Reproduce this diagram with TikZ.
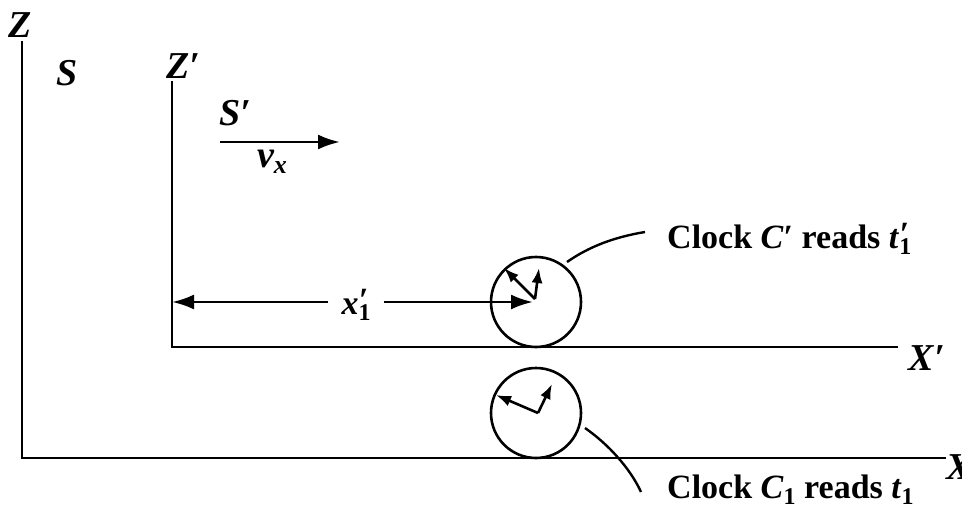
\documentclass[tikz,border=0pt]{standalone}
\usepackage{fontspec}
\setmainfont{Liberation Serif}
\usetikzlibrary{arrows.meta}
\newcommand\psubA[2]{\textit{#1}\rlap{\kern0.5pt\raisebox{0.15ex}{′}}\raisebox{-0.4ex}{\fontsize{24}{24}\selectfont #2}}
\newcommand\subA[1]{\raisebox{-0.4ex}{\fontsize{24}{24}\selectfont #1}}
\begin{document}
\begin{tikzpicture}[x=1pt,y=-1pt,
  ax/.style={line width=2.8pt,line cap=rect},
  big/.style={font=\fontsize{38}{38}\selectfont\bfseries\itshape,inner sep=0pt},
  lab/.style={font=\fontsize{34}{34}\selectfont\bfseries,inner sep=0pt,anchor=west},
  bigarrow/.style={line width=2.8pt,-{Latex[length=22pt,width=15pt]}},
  hand/.style={line width=2.6pt,-{Latex[length=15pt,width=11pt]}},
  lead/.style={line width=2.4pt}]
\useasboundingbox (0,0) rectangle (962,511);
% S frame
\coordinate (Ztop) at (22,42);
\coordinate (O) at (22,458);
\coordinate (Xend) at (945,458);
\draw[ax] (Ztop) -- (O) -- (Xend);
\node[big] (Z) at (20,25) {Z};
\node[big] (S) at (67,73) {S};
\node[big,anchor=west] (X) at (946,467) {X};
% S' frame
\coordinate (Zptop) at (172,82);
\coordinate (Op) at (172,347);
\coordinate (Xpend) at (897,347);
\draw[ax] (Zptop) -- (Op) -- (Xpend);
\node[big] (Zp) at (183,66) {Z′};
\node[big] (Xp) at (927,358) {X′};
\node[big] (Sp) at (235,113) {S′};
\coordinate (va) at (220,142);
\coordinate (vb) at (340,142);
\draw[bigarrow] (va) -- (vb);
\node[big] (vx) at (272,162) {v\raisebox{-0.35ex}{\fontsize{26}{26}\selectfont x}};
% clocks
\node[circle,draw,line width=2.6pt,minimum size=90pt,inner sep=0pt] (Cp) at (536,302) {};
\node[circle,draw,line width=2.6pt,minimum size=90pt,inner sep=0pt] (C1) at (536,413) {};
\coordinate (hp) at (535,299);
\coordinate (hpa) at (504,268);
\coordinate (hpb) at (539,268);
\draw[hand] (hp) -- (hpa);
\draw[hand] (hp) -- (hpb);
\coordinate (h1) at (538,413);
\coordinate (h1a) at (496,395);
\coordinate (h1b) at (552,384);
\draw[hand] (h1) -- (h1a);
\draw[hand] (h1) -- (h1b);
% x'_1 dimension
\node[font=\fontsize{34}{34}\selectfont\bfseries,inner sep=0pt,minimum width=55pt] (x1) at (356,305) {\psubA{x}{1}};
\coordinate (dimL) at (172,302);
\coordinate (dimR) at (533,302);
\draw[bigarrow] (x1.west |- dimL) -- (dimL);
\draw[bigarrow] (x1.east |- dimR) -- (dimR);
% labels
\node[lab] (Lp) at (667,239) {Clock \textit{C}′ reads \psubA{t}{1}};
\node[lab] (L1) at (667,490) {Clock \textit{C}\subA{1} reads \textit{t}\subA{1}};
\coordinate (lpa) at (567,262);
\coordinate (lpb) at (645,232);
\draw[lead] (lpa) .. controls (590,246) and (615,237) .. (lpb);
\coordinate (l1a) at (585,428);
\coordinate (l1b) at (641,492);
\draw[lead] (l1a) .. controls (608,444) and (630,468) .. (l1b);
\end{tikzpicture}
\end{document}
